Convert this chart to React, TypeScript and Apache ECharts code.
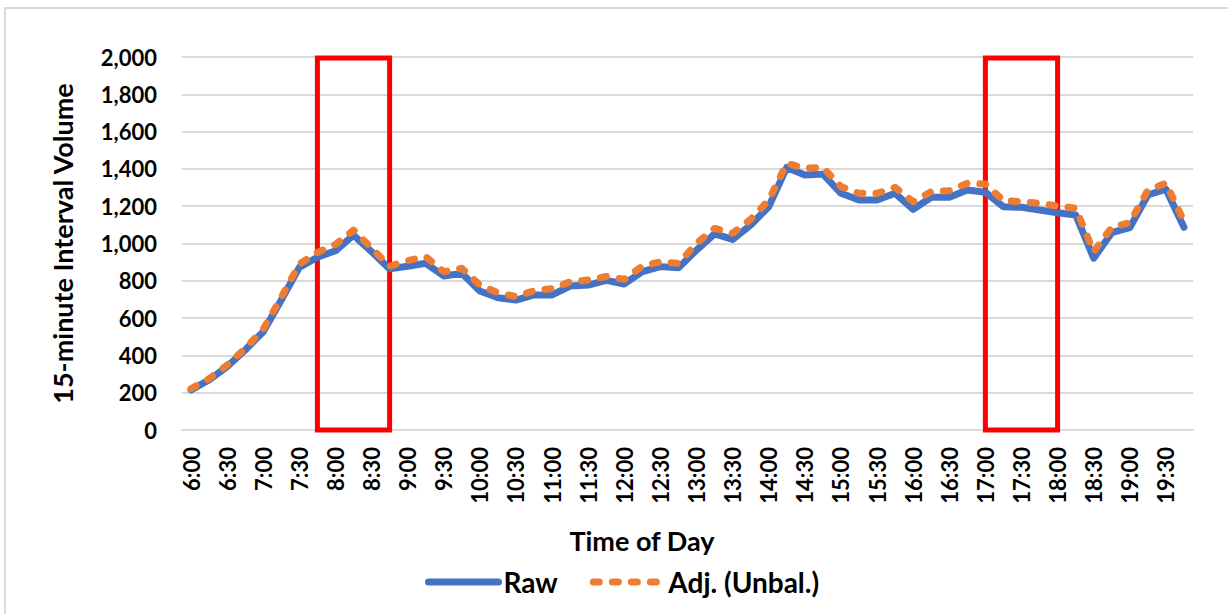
import React, { useEffect, useRef } from "react";
import * as echarts from "echarts";

const times: string[] = [
  "6:00", "6:15", "6:30", "6:45", "7:00", "7:15", "7:30", "7:45",
  "8:00", "8:15", "8:30", "8:45", "9:00", "9:15", "9:30", "9:45",
  "10:00", "10:15", "10:30", "10:45", "11:00", "11:15", "11:30", "11:45",
  "12:00", "12:15", "12:30", "12:45", "13:00", "13:15", "13:30", "13:45",
  "14:00", "14:15", "14:30", "14:45", "15:00", "15:15", "15:30", "15:45",
  "16:00", "16:15", "16:30", "16:45", "17:00", "17:15", "17:30", "17:45",
  "18:00", "18:15", "18:30", "18:45", "19:00", "19:15", "19:30", "19:45",
];

const raw: number[] = [
  215, 268, 340, 429, 527, 697, 872, 926,
  961, 1045, 956, 864, 878, 894, 826, 840,
  745, 709, 697, 724, 724, 772, 777, 802,
  783, 849, 876, 870, 965, 1052, 1022, 1099,
  1197, 1408, 1367, 1372, 1269, 1233, 1233, 1269,
  1183, 1248, 1248, 1287, 1275, 1197, 1194, 1180,
  1165, 1153, 921, 1058, 1085, 1260, 1291, 1087,
];

const adjUnbal: number[] = [
  222, 275, 348, 437, 540, 712, 890, 952,
  995, 1072, 975, 878, 908, 929, 849, 867,
  777, 736, 715, 747, 758, 795, 804, 823,
  808, 879, 902, 893, 1001, 1081, 1055, 1130,
  1233, 1430, 1403, 1408, 1305, 1269, 1269, 1301,
  1224, 1278, 1283, 1323, 1319, 1230, 1224, 1215,
  1201, 1189, 956, 1087, 1112, 1287, 1323, 1120,
];

const highlightWindows: [string, string][] = [
  ["7:45", "8:45"],
  ["17:00", "18:00"],
];

const FONT = "Lato";

export default function App() {
  const ref = useRef<HTMLDivElement>(null);

  useEffect(() => {
    if (!ref.current) return;
    const chart = echarts.init(ref.current, null, { renderer: "svg" });
    chart.setOption({
      animation: false,
      backgroundColor: "#ffffff",
      textStyle: { fontFamily: FONT },
      grid: { left: 182, right: 35, top: 57, bottom: 184, containLabel: false },
      legend: {
        data: ["Raw", "Adj. (Unbal.)"],
        left: 420,
        top: 563,
        itemWidth: 70,
        itemHeight: 14,
        itemGap: 32,
        itemStyle: { opacity: 0 },
        lineStyle: { width: 7, cap: "round" },
        textStyle: { fontFamily: FONT, fontSize: 28, fontWeight: "bold", color: "#000" },
      },
      graphic: [
        {
          type: "rect",
          shape: { x: 5, y: 8, width: 1400, height: 800 },
          style: { fill: "none", stroke: "#d9d9d9", lineWidth: 2 },
          silent: true,
        },
        {
          type: "text",
          x: 642,
          y: 540,
          style: {
            text: "Time of Day",
            fontFamily: FONT,
            fontSize: 27,
            fontWeight: "bold",
            fill: "#000",
            align: "center",
            verticalAlign: "middle",
          },
        },
      ],
      xAxis: {
        type: "category",
        data: times,
        boundaryGap: true,
        axisLine: { show: true, lineStyle: { color: "#d9d9d9", width: 2 } },
        axisTick: { show: false },
        axisLabel: {
          interval: 1,
          rotate: 90,
          margin: 17,
          fontFamily: FONT,
          fontSize: 22,
          fontWeight: "bold",
          color: "#000",
        },
        splitLine: { show: false },
      },
      yAxis: {
        type: "value",
        min: 0,
        max: 2000,
        interval: 200,
        name: "15-minute Interval Volume",
        nameLocation: "middle",
        nameGap: 106,
        nameTextStyle: { fontFamily: FONT, fontSize: 27, fontWeight: "bold", color: "#000" },
        axisLine: { show: false },
        axisTick: { show: false },
        axisLabel: {
          margin: 25,
          fontFamily: FONT,
          fontSize: 22,
          fontWeight: "bold",
          color: "#000",
          formatter: (v: number) => v.toLocaleString("en-US"),
        },
        splitLine: { show: true, lineStyle: { color: "#d9d9d9", width: 2 } },
      },
      series: [
        {
          name: "Raw",
          type: "line",
          data: raw,
          symbol: "none",
          showSymbol: false,
          lineStyle: { color: "#4472C4", width: 7, cap: "round", join: "round" },
          itemStyle: { color: "#4472C4" },
          z: 2,
        },
        {
          name: "Adj. (Unbal.)",
          type: "line",
          data: adjUnbal,
          symbol: "none",
          showSymbol: false,
          lineStyle: { color: "#ED7D31", width: 7, type: [6, 13], cap: "round", join: "round" },
          itemStyle: { color: "#ED7D31" },
          z: 3,
        },
        {
          name: "windows",
          type: "line",
          data: [],
          z: 10,
          silent: true,
          markArea: {
            silent: true,
            itemStyle: { color: "rgba(0,0,0,0)", borderColor: "#FF0000", borderWidth: 5 },
            data: highlightWindows.map(([a, b]) => [
              { xAxis: a, yAxis: 1995 },
              { xAxis: b, yAxis: 0 },
            ]),
          },
        },
      ],
    });
    return () => chart.dispose();
  }, []);

  return (
    <div
      ref={ref}
      style={{ position: "fixed", left: 0, top: 0, width: 1228, height: 614 }}
    />
  );
}
